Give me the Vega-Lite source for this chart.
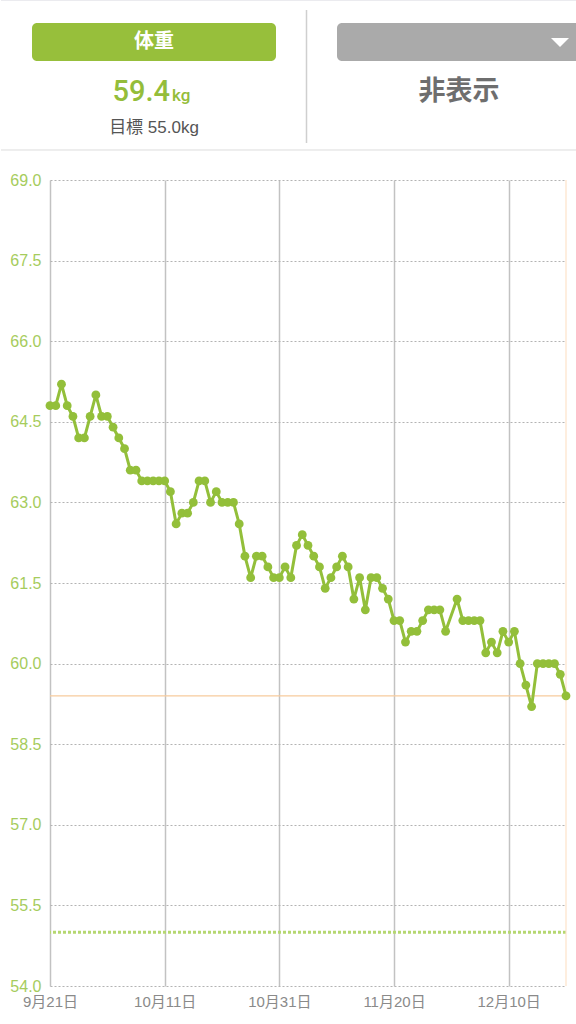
{
  "$schema": "https://vega.github.io/schema/vega-lite/v6.json",
  "background": "white",
  "padding": 0,
  "spacing": 21,
  "bounds": "full",
  "config": {
    "view": {"stroke": null},
    "font": "Liberation Sans, Noto Sans CJK JP"
  },
  "datasets": {
    "weights": [
      {"date": "2019-09-21", "kg": 64.8}, {"date": "2019-09-22", "kg": 64.8}, {"date": "2019-09-23", "kg": 65.2},
      {"date": "2019-09-24", "kg": 64.8}, {"date": "2019-09-25", "kg": 64.6}, {"date": "2019-09-26", "kg": 64.2},
      {"date": "2019-09-27", "kg": 64.2}, {"date": "2019-09-28", "kg": 64.6}, {"date": "2019-09-29", "kg": 65.0},
      {"date": "2019-09-30", "kg": 64.6}, {"date": "2019-10-01", "kg": 64.6}, {"date": "2019-10-02", "kg": 64.4},
      {"date": "2019-10-03", "kg": 64.2}, {"date": "2019-10-04", "kg": 64.0}, {"date": "2019-10-05", "kg": 63.6},
      {"date": "2019-10-06", "kg": 63.6}, {"date": "2019-10-07", "kg": 63.4}, {"date": "2019-10-08", "kg": 63.4},
      {"date": "2019-10-09", "kg": 63.4}, {"date": "2019-10-10", "kg": 63.4}, {"date": "2019-10-11", "kg": 63.4},
      {"date": "2019-10-12", "kg": 63.2}, {"date": "2019-10-13", "kg": 62.6}, {"date": "2019-10-14", "kg": 62.8},
      {"date": "2019-10-15", "kg": 62.8}, {"date": "2019-10-16", "kg": 63.0}, {"date": "2019-10-17", "kg": 63.4},
      {"date": "2019-10-18", "kg": 63.4}, {"date": "2019-10-19", "kg": 63.0}, {"date": "2019-10-20", "kg": 63.2},
      {"date": "2019-10-21", "kg": 63.0}, {"date": "2019-10-22", "kg": 63.0}, {"date": "2019-10-23", "kg": 63.0},
      {"date": "2019-10-24", "kg": 62.6}, {"date": "2019-10-25", "kg": 62.0}, {"date": "2019-10-26", "kg": 61.6},
      {"date": "2019-10-27", "kg": 62.0}, {"date": "2019-10-28", "kg": 62.0}, {"date": "2019-10-29", "kg": 61.8},
      {"date": "2019-10-30", "kg": 61.6}, {"date": "2019-10-31", "kg": 61.6}, {"date": "2019-11-01", "kg": 61.8},
      {"date": "2019-11-02", "kg": 61.6}, {"date": "2019-11-03", "kg": 62.2}, {"date": "2019-11-04", "kg": 62.4},
      {"date": "2019-11-05", "kg": 62.2}, {"date": "2019-11-06", "kg": 62.0}, {"date": "2019-11-07", "kg": 61.8},
      {"date": "2019-11-08", "kg": 61.4}, {"date": "2019-11-09", "kg": 61.6}, {"date": "2019-11-10", "kg": 61.8},
      {"date": "2019-11-11", "kg": 62.0}, {"date": "2019-11-12", "kg": 61.8}, {"date": "2019-11-13", "kg": 61.2},
      {"date": "2019-11-14", "kg": 61.6}, {"date": "2019-11-15", "kg": 61.0}, {"date": "2019-11-16", "kg": 61.6},
      {"date": "2019-11-17", "kg": 61.6}, {"date": "2019-11-18", "kg": 61.4}, {"date": "2019-11-19", "kg": 61.2},
      {"date": "2019-11-20", "kg": 60.8}, {"date": "2019-11-21", "kg": 60.8}, {"date": "2019-11-22", "kg": 60.4},
      {"date": "2019-11-23", "kg": 60.6}, {"date": "2019-11-24", "kg": 60.6}, {"date": "2019-11-25", "kg": 60.8},
      {"date": "2019-11-26", "kg": 61.0}, {"date": "2019-11-27", "kg": 61.0}, {"date": "2019-11-28", "kg": 61.0},
      {"date": "2019-11-29", "kg": 60.6}, {"date": "2019-12-01", "kg": 61.2}, {"date": "2019-12-02", "kg": 60.8},
      {"date": "2019-12-03", "kg": 60.8}, {"date": "2019-12-04", "kg": 60.8}, {"date": "2019-12-05", "kg": 60.8},
      {"date": "2019-12-06", "kg": 60.2}, {"date": "2019-12-07", "kg": 60.4}, {"date": "2019-12-08", "kg": 60.2},
      {"date": "2019-12-09", "kg": 60.6}, {"date": "2019-12-10", "kg": 60.4}, {"date": "2019-12-11", "kg": 60.6},
      {"date": "2019-12-12", "kg": 60.0}, {"date": "2019-12-13", "kg": 59.6}, {"date": "2019-12-14", "kg": 59.2},
      {"date": "2019-12-15", "kg": 60.0}, {"date": "2019-12-16", "kg": 60.0}, {"date": "2019-12-17", "kg": 60.0},
      {"date": "2019-12-18", "kg": 60.0}, {"date": "2019-12-19", "kg": 59.8}, {"date": "2019-12-20", "kg": 59.4}
    ]
  },
  "vconcat": [
    {
      "width": 527,
      "height": 150,
      "encoding": {
        "x": {"field": "panel", "type": "nominal", "axis": null,
              "scale": {"domain": ["weight", "other"], "range": [-48.5, 561.5], "paddingInner": 0.2, "paddingOuter": 0.1}},
        "y": {"field": "row", "type": "nominal", "axis": null,
              "scale": {"domain": ["button", "value", "goal"], "range": [17, 167], "paddingInner": 0.24, "paddingOuter": 0.12}}
      },
      "layer": [
        {
          "data": {"values": [{"panel": "weight", "row": "button"}]},
          "mark": {"type": "rect", "cornerRadius": 5},
          "encoding": {
            "color": {"field": "panel", "type": "nominal", "legend": null,
                      "scale": {"domain": ["weight", "other"], "range": ["#97bf3b", "#aaaaaa"]}}
          }
        },
        {
          "data": {"values": [{"panel": "other", "row": "button"}]},
          "mark": {"type": "rect", "cornerRadius": 5, "clip": true},
          "encoding": {
            "color": {"field": "panel", "type": "nominal", "legend": null,
                      "scale": {"domain": ["weight", "other"], "range": ["#97bf3b", "#aaaaaa"]}}
          }
        },
        {
          "data": {"values": [{"panel": "weight", "row": "button", "text": "体重"}]},
          "mark": {"type": "text", "font": "Noto Sans CJK JP", "fontWeight": "bold", "fontSize": 20, "color": "white", "baseline": "middle"},
          "encoding": {"text": {"field": "text"}}
        },
        {
          "data": {"values": [{"panel": "other", "row": "button"}]},
          "mark": {"type": "point", "shape": "M-1,-0.5L1,-0.5L0,0.5Z", "size": 324, "filled": true, "color": "white", "opacity": 1, "strokeWidth": 0, "xOffset": 101, "yOffset": 0.5},
          "encoding": {}
        },
        {
          "data": {"values": [{"panel": "weight", "row": "value", "text": "59.4"}]},
          "mark": {"type": "text", "font": "Roboto", "fontWeight": 500, "fontSize": 29, "color": "#94bd3a", "align": "right", "baseline": "alphabetic", "dx": 16, "dy": 9},
          "encoding": {"text": {"field": "text"}}
        },
        {
          "data": {"values": [{"panel": "weight", "row": "value", "text": "kg"}]},
          "mark": {"type": "text", "font": "Roboto", "fontWeight": 500, "fontSize": 17, "color": "#94bd3a", "align": "left", "baseline": "alphabetic", "dx": 18, "dy": 9},
          "encoding": {"text": {"field": "text"}}
        },
        {
          "data": {"values": [{"panel": "other", "row": "value", "text": "非表示"}]},
          "mark": {"type": "text", "font": "Noto Sans CJK JP", "fontWeight": "bold", "fontSize": 27, "color": "#6e6e6e", "baseline": "middle"},
          "encoding": {"text": {"field": "text"}}
        },
        {
          "data": {"values": [{"panel": "weight", "row": "goal", "text": "目標 55.0kg"}]},
          "mark": {"type": "text", "fontSize": 17, "color": "#555555", "baseline": "middle", "dy": -14},
          "encoding": {"text": {"field": "text"}}
        },
        {
          "data": {"values": [{"panel": "other", "row": "button", "row2": "goal"}]},
          "mark": {"type": "rule", "color": "#cfcfcf", "strokeWidth": 1.5},
          "encoding": {
            "x": {"field": "panel", "type": "nominal", "bandPosition": -0.125},
            "y": {"field": "row", "type": "nominal", "bandPosition": -0.342},
            "y2": {"field": "row2", "bandPosition": 0.526}
          }
        },
        {
          "data": {"values": [{"panel": "weight", "panel2": "other", "row": "goal"}]},
          "mark": {"type": "rule", "color": "#dcdcdc", "strokeWidth": 1},
          "encoding": {
            "x": {"field": "panel", "type": "nominal", "bandPosition": -0.127},
            "x2": {"field": "panel2", "bandPosition": 0.9836},
            "y": {"field": "row", "type": "nominal", "bandPosition": 0.7105}
          }
        },
        {
          "data": {"values": [{"panel": "weight", "panel2": "other", "row": "button"}]},
          "mark": {"type": "rule", "color": "#ebebef", "strokeWidth": 1},
          "encoding": {
            "x": {"field": "panel", "type": "nominal", "bandPosition": -0.127},
            "x2": {"field": "panel2", "bandPosition": 0.9836},
            "y": {"field": "row", "type": "nominal", "bandPosition": -0.592}
          }
        }
      ]
    },
    {
      "width": 516,
      "height": 806,
      "layer": [
        {
          "data": {"values": [{"kg": 59.4}]},
          "mark": {"type": "rule", "color": "#f7cb9d", "strokeWidth": 1.2},
          "encoding": {
            "y": {"field": "kg", "type": "quantitative", "scale": {"domain": [54, 69], "nice": false, "zero": false},
                  "axis": {"title": null, "values": [54, 55.5, 57, 58.5, 60, 61.5, 63, 64.5, 66, 67.5, 69], "format": ".1f",
                           "labelColor": "#a6cc5c", "labelFontSize": 16, "labelFont": "Liberation Sans", "labelAlign": "right", "labelBaseline": "middle",
                           "labelPadding": -40, "ticks": true, "tickSize": 49, "tickOpacity": 0, "domain": false,
                           "grid": true, "gridColor": "#b3b3b3", "gridDash": [2, 2], "gridWidth": 1}}
          }
        },
        {
          "data": {"values": [{"kg": 55.0}]},
          "mark": {"type": "rule", "color": "#b5d770", "strokeWidth": 3, "strokeDash": [3, 2]},
          "encoding": {
            "y": {"field": "kg", "type": "quantitative", "scale": {"domain": [54, 69], "nice": false, "zero": false},
                  "axis": {"title": null, "values": [54, 55.5, 57, 58.5, 60, 61.5, 63, 64.5, 66, 67.5, 69], "format": ".1f",
                           "labelColor": "#a6cc5c", "labelFontSize": 16, "labelFont": "Liberation Sans", "labelAlign": "right", "labelBaseline": "middle",
                           "labelPadding": -40, "ticks": true, "tickSize": 49, "tickOpacity": 0, "domain": false,
                           "grid": true, "gridColor": "#b3b3b3", "gridDash": [2, 2], "gridWidth": 1}}
          }
        },
        {
          "data": {"values": [{"date": "2019-12-20"}]},
          "mark": {"type": "rule", "color": "#fde3c9", "strokeWidth": 1.2},
          "encoding": {
            "x": {"field": "date", "type": "temporal",
                  "scale": {"type": "utc", "domain": [{"year": 2019, "month": 9, "date": 21, "utc": true}, {"year": 2019, "month": 12, "date": 20, "utc": true}]},
                  "axis": {"title": null,
                           "values": [{"year": 2019, "month": 9, "date": 21, "utc": true}, {"year": 2019, "month": 10, "date": 11, "utc": true}, {"year": 2019, "month": 10, "date": 31, "utc": true}, {"year": 2019, "month": 11, "date": 20, "utc": true}, {"year": 2019, "month": 12, "date": 10, "utc": true}],
                           "labelExpr": "utcFormat(datum.value, '%-m月%-d日')", "labelColor": "#8a8a8a", "labelFontSize": 15,
                           "labelPadding": 8, "labelFlush": false, "labelOverlap": false, "ticks": false, "domain": false,
                           "grid": true, "gridColor": "#c2c2c2", "gridWidth": 1.5}}
          }
        },
        {
          "data": {"name": "weights"},
          "mark": {"type": "line", "color": "#93bf3a", "strokeWidth": 3, "strokeJoin": "round"},
          "encoding": {
            "x": {"field": "date", "type": "temporal",
                  "scale": {"type": "utc", "domain": [{"year": 2019, "month": 9, "date": 21, "utc": true}, {"year": 2019, "month": 12, "date": 20, "utc": true}]},
                  "axis": {"title": null,
                           "values": [{"year": 2019, "month": 9, "date": 21, "utc": true}, {"year": 2019, "month": 10, "date": 11, "utc": true}, {"year": 2019, "month": 10, "date": 31, "utc": true}, {"year": 2019, "month": 11, "date": 20, "utc": true}, {"year": 2019, "month": 12, "date": 10, "utc": true}],
                           "labelExpr": "utcFormat(datum.value, '%-m月%-d日')", "labelColor": "#8a8a8a", "labelFontSize": 15,
                           "labelPadding": 8, "labelFlush": false, "labelOverlap": false, "ticks": false, "domain": false,
                           "grid": true, "gridColor": "#c2c2c2", "gridWidth": 1.5}},
            "y": {"field": "kg", "type": "quantitative", "scale": {"domain": [54, 69], "nice": false, "zero": false},
                  "axis": {"title": null, "values": [54, 55.5, 57, 58.5, 60, 61.5, 63, 64.5, 66, 67.5, 69], "format": ".1f",
                           "labelColor": "#a6cc5c", "labelFontSize": 16, "labelFont": "Liberation Sans", "labelAlign": "right", "labelBaseline": "middle",
                           "labelPadding": -40, "ticks": true, "tickSize": 49, "tickOpacity": 0, "domain": false,
                           "grid": true, "gridColor": "#b3b3b3", "gridDash": [2, 2], "gridWidth": 1}}
          }
        },
        {
          "data": {"name": "weights"},
          "mark": {"type": "point", "filled": true, "opacity": 1, "color": "#93bf3a", "size": 78},
          "encoding": {
            "x": {"field": "date", "type": "temporal"},
            "y": {"field": "kg", "type": "quantitative"}
          }
        }
      ]
    }
  ]
}
